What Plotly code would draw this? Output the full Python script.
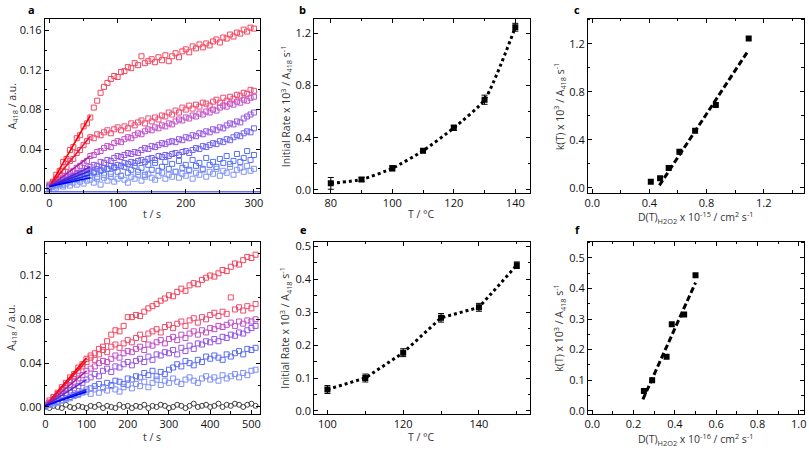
import numpy as np
import plotly.graph_objects as go

W, H = 809, 451

# ---------------- Panel a: kinetics traces (A418, units of 1e-3) ----------------
a_t = list(range(0, 305, 5))
a_s1 = [4, 7, 14, 18, 27, 30, 39, 42, 51, 54, 63, 66, 72,
        82, 89, 97, 103, 107, 111, 114, 113, 118, 119, 123, 122,
        127, 125, 134, 127, 129, 131, 128, 133, 130, 135, 129, 134,
        137, 133, 139, 141, 138, 144, 142, 146, 143, 147, 145, 149,
        151, 148, 153, 152, 156, 154, 158, 157, 161, 159, 163, 162]
a_s2 = [3, 6, 10, 14, 18, 22, 28, 30, 36, 39, 44, 48, 52,
        51, 55, 54, 57, 59, 56, 60, 62, 59, 63, 61, 66,
        64, 67, 69, 66, 71, 68, 72, 70, 74, 73, 77, 75,
        79, 77, 82, 80, 84, 81, 85, 83, 87, 86, 84, 88,
        90, 87, 92, 89, 93, 91, 95, 94, 97, 96, 100, 99]
a_s3 = [2, 5, 6, 9, 11, 13, 16, 18, 21, 23, 26, 28, 33,
        34, 37, 38, 41, 43, 42, 46, 48, 47, 50, 52, 51,
        54, 56, 55, 58, 60, 59, 62, 61, 64, 63, 66, 65,
        68, 70, 69, 72, 71, 74, 73, 76, 75, 78, 77, 80,
        79, 82, 84, 83, 86, 85, 88, 87, 90, 89, 92, 93]
a_s4 = [2, 4, 6, 7, 9, 10, 12, 13, 15, 16, 18, 20, 22,
        24, 23, 27, 26, 29, 28, 31, 33, 32, 34, 36, 35,
        37, 36, 39, 41, 40, 43, 42, 44, 46, 45, 47, 48,
        47, 50, 49, 52, 51, 54, 53, 56, 55, 58, 57, 60,
        59, 62, 61, 64, 66, 65, 68, 67, 71, 73, 75, 77]
a_s5 = [1, 3, 4, 5, 7, 8, 9, 11, 12, 13, 15, 16, 18,
        17, 20, 19, 21, 20, 23, 22, 24, 23, 26, 25, 27,
        26, 28, 29, 27, 30, 31, 29, 33, 32, 34, 33, 35,
        36, 34, 37, 38, 36, 39, 41, 40, 43, 42, 44, 46,
        45, 48, 47, 50, 49, 52, 54, 53, 56, 58, 57, 61]
a_s6 = [1, 5, 3, 6, 4, 8, 7, 10, 9, 12, 11, 14, 13,
        16, 12, 18, 14, 20, 15, 21, 17, 13, 22, 16, 19,
        23, 17, 21, 14, 24, 19, 26, 18, 22, 27, 20, 25,
        17, 28, 21, 24, 19, 29, 23, 26, 20, 31, 24, 27,
        22, 30, 26, 33, 25, 28, 35, 27, 31, 38, 29, 34]
a_s7 = [0, 3, 1, 4, 2, 5, 3, 6, 4, 7, 5, 8, 9,
        6, 10, 4, 11, 8, 12, 7, 10, 13, 9, 6, 12,
        10, 14, 8, 12, 15, 11, 9, 13, 16, 10, 14, 12,
        17, 11, 15, 13, 18, 10, 16, 14, 19, 12, 17, 15,
        20, 13, 18, 16, 22, 14, 19, 21, 17, 23, 18, 20]
a_series = [a_s1, a_s2, a_s3, a_s4, a_s5, a_s6, a_s7]
a_fit_t = [0, 60]
a_fit_start = [2, 2, 2, 2, 2, 2, 2]
a_fit_end = [74, 53, 33, 22, 18, 14, 11]
a_base_t = [-7, 309]
a_base = [-3.5, -3.5]

# ---------------- Panel d: kinetics traces (A418, units of 1e-3) ----------------
d_t = list(range(0, 520, 10))
d_s1 = [2, 6, 9, 13, 18, 22, 27, 30, 36, 39, 44,
        47, 49, 53, 55, 60, 66, 70, 69, 74, 82,
        82, 84, 83, 87, 90, 92, 94, 97, 99, 102,
        101, 105, 108, 106, 111, 113, 112, 116, 118, 120,
        119, 122, 125, 124, 128, 131, 130, 134, 137, 136, 139]
d_s2 = [1, 4, 9, 12, 16, 20, 24, 28, 33, 37, 41,
        45, 43, 48, 52, 50, 55, 57, 54, 58, 61,
        59, 63, 66, 62, 67, 69, 71, 68, 73, 75,
        72, 76, 78, 74, 79, 81, 77, 82, 80, 84,
        86, 83, 87, 85, 100, 89, 91, 88, 92, 90, 94]
d_s3 = [2, 4, 7, 10, 13, 17, 20, 23, 26, 29, 33,
        35, 37, 40, 42, 41, 44, 47, 45, 49, 51,
        50, 53, 55, 52, 57, 56, 59, 61, 58, 62,
        64, 61, 66, 63, 67, 69, 66, 70, 68, 72,
        71, 74, 73, 75, 77, 74, 78, 76, 79, 78, 80]
d_s4 = [1, 3, 5, 8, 10, 12, 15, 17, 19, 22, 25,
        27, 30, 28, 33, 35, 32, 37, 36, 39, 41,
        38, 42, 44, 41, 46, 43, 48, 47, 50, 49,
        52, 48, 54, 51, 56, 53, 58, 57, 60, 59,
        62, 60, 64, 63, 66, 65, 68, 67, 70, 72, 74]
d_s5 = [1, 2, 4, 5, 6, 8, 9, 11, 12, 14, 16,
        17, 19, 21, 18, 22, 20, 24, 23, 21, 26,
        25, 28, 27, 31, 29, 33, 28, 32, 30, 34,
        36, 39, 37, 42, 40, 38, 43, 41, 46, 44,
        47, 45, 43, 48, 46, 49, 51, 48, 53, 52, 54]
d_s6 = [0, 2, 3, 4, 6, 7, 8, 10, 11, 13, 14,
        12, 16, 13, 17, 15, 19, 16, 14, 18, 20,
        17, 21, 19, 23, 18, 22, 25, 20, 24, 22,
        26, 23, 21, 25, 27, 24, 22, 26, 28, 25,
        27, 24, 29, 26, 28, 30, 27, 31, 29, 33, 34]
d_s7 = [0, -1, 1, 0, -1, 2, 0, -1, 1, 0, -1,
        1, 0, 2, -1, 1, 0, -1, 2, 0, 1,
        -1, 1, 0, 2, -1, 1, 0, 2, 1, -1,
        0, 2, 1, -1, 1, 3, 0, 1, 2, 0,
        1, 3, 0, 2, 1, 3, 2, 0, 2, 3, 1]
d_series = [d_s1, d_s2, d_s3, d_s4, d_s5, d_s6]
d_fit_t = [0, 100]
d_fit_start = [1, 1, 1, 1, 1, 1]
d_fit_end = [45, 42, 33, 25, 16, 14]

# ---------------- Panel b / c ----------------
b_T = [80, 90, 100, 110, 120, 130, 140]
b_rate = [0.05, 0.08, 0.165, 0.30, 0.475, 0.69, 1.245]
b_err = [0.045, 0.015, 0.02, 0.015, 0.02, 0.035, 0.03]
c_D = [0.41, 0.475, 0.535, 0.61, 0.72, 0.865, 1.095]
c_fit_x = [0.47, 1.09]
c_fit_y = [0.02, 1.14]

# ---------------- Panel e / f ----------------
e_T = [100, 110, 120, 130, 140, 150]
e_rate = [0.065, 0.10, 0.177, 0.283, 0.315, 0.443]
e_err = [0.012, 0.012, 0.012, 0.013, 0.012, 0.01]
f_D = [0.25, 0.29, 0.36, 0.385, 0.445, 0.50]
f_fit_x = [0.245, 0.50]
f_fit_y = [0.037, 0.419]

marker_cols = ['#f2475f', '#ee4c72', '#c24fc6', '#9656e4', '#6f63f0', '#5670f3', '#8093f6']
line_cols = ['#ff0000', '#f01030', '#a8209c', '#7020c8', '#3a22dc', '#1f2ae6', '#0000ff']
d_marker_cols = ['#f2475f', '#ee4c6e', '#c24fc6', '#9456e6', '#5b6cf2', '#7f8ff6']
d_line_cols = ['#ff0000', '#f0102c', '#a8209c', '#5a22d4', '#2a26e0', '#0000ff']

fig = go.Figure()

# panel a
for i, s in enumerate(a_series):
    fig.add_trace(go.Scatter(x=a_t, y=np.array(s) / 1000, mode='markers',
                             marker=dict(symbol='square-open', size=5, color=marker_cols[i],
                                         line=dict(width=1)),
                             xaxis='x', yaxis='y', showlegend=False))
fig.add_trace(go.Scatter(x=a_base_t, y=np.array(a_base) / 1000, mode='lines',
                         line=dict(color='#3040ff', width=1.5), xaxis='x', yaxis='y', showlegend=False))
for i in range(len(a_series)):
    fig.add_trace(go.Scatter(x=a_fit_t, y=np.array([a_fit_start[i], a_fit_end[i]]) / 1000, mode='lines',
                             line=dict(color=line_cols[i], width=1.6), xaxis='x', yaxis='y',
                             showlegend=False))

# panel d
fig.add_trace(go.Scatter(x=d_t, y=np.array(d_s7) / 1000, mode='markers',
                         marker=dict(symbol='circle-open', size=5, color='#404040', line=dict(width=1)),
                         xaxis='x4', yaxis='y4', showlegend=False))
for i, s in enumerate(d_series):
    fig.add_trace(go.Scatter(x=d_t, y=np.array(s) / 1000, mode='markers',
                             marker=dict(symbol='square-open', size=5, color=d_marker_cols[i],
                                         line=dict(width=1)),
                             xaxis='x4', yaxis='y4', showlegend=False))
for i in range(len(d_series)):
    fig.add_trace(go.Scatter(x=d_fit_t, y=np.array([d_fit_start[i], d_fit_end[i]]) / 1000, mode='lines',
                             line=dict(color=d_line_cols[i], width=1.6), xaxis='x4', yaxis='y4',
                             showlegend=False))

# panel b
fig.add_trace(go.Scatter(x=b_T, y=b_rate, mode='lines', line=dict(color='black', width=3, dash='dot',
                         shape='spline', smoothing=0.6), xaxis='x2', yaxis='y2', showlegend=False))
fig.add_trace(go.Scatter(x=b_T, y=b_rate, mode='markers',
                         marker=dict(symbol='square', size=6, color='black'),
                         error_y=dict(type='data', array=b_err, color='black', thickness=1, width=3),
                         xaxis='x2', yaxis='y2', showlegend=False))
# panel c
fig.add_trace(go.Scatter(x=c_fit_x, y=c_fit_y, mode='lines',
                         line=dict(color='black', width=3, dash='6px,3px'), xaxis='x3', yaxis='y3',
                         showlegend=False))
fig.add_trace(go.Scatter(x=c_D, y=b_rate, mode='markers',
                         marker=dict(symbol='square', size=6, color='black'),
                         xaxis='x3', yaxis='y3', showlegend=False))
# panel e
fig.add_trace(go.Scatter(x=e_T, y=e_rate, mode='lines', line=dict(color='black', width=3, dash='dot'),
                         xaxis='x5', yaxis='y5', showlegend=False))
fig.add_trace(go.Scatter(x=e_T, y=e_rate, mode='markers',
                         marker=dict(symbol='square', size=6, color='black'),
                         error_y=dict(type='data', array=e_err, color='black', thickness=1, width=3),
                         xaxis='x5', yaxis='y5', showlegend=False))
# panel f
fig.add_trace(go.Scatter(x=f_fit_x, y=f_fit_y, mode='lines',
                         line=dict(color='black', width=3, dash='6px,3px'), xaxis='x6', yaxis='y6',
                         showlegend=False))
fig.add_trace(go.Scatter(x=f_D, y=e_rate, mode='markers',
                         marker=dict(symbol='square', size=6, color='black'),
                         xaxis='x6', yaxis='y6', showlegend=False))


def px(x):
    return x / W


def py(y):
    return 1 - y / H


tickfont = dict(family='Open Sans, sans-serif', size=11, color='#111')


def ax(domain, rng, dtick, minor, fmt=None, tick0=None, anchor=None):
    d = dict(domain=domain, range=rng, dtick=dtick, ticks='inside', ticklen=4, tickwidth=1,
             tickcolor='black', showline=True, linecolor='black', linewidth=1, mirror='ticks',
             showgrid=False, zeroline=False, tickfont=tickfont,
             minor=dict(dtick=minor, ticks='inside', ticklen=2.5, tickcolor='black', showgrid=False),
             anchor=anchor)
    if fmt:
        d['tickformat'] = fmt
    if tick0 is not None:
        d['tick0'] = tick0
        d['minor']['tick0'] = tick0
    return d


top = [py(192.5), py(16)]
bot = [py(417), py(242.3)]
xa = [px(42), px(259)]
xb = [px(313.5), px(531)]
xc = [px(589.3), px(806.7)]

fig.update_layout(
    width=W, height=H, margin=dict(l=0, r=0, t=0, b=0),
    paper_bgcolor='white', plot_bgcolor='white',
    xaxis=ax(xa, [-7, 309], 100, 50, anchor='y', tick0=0),
    yaxis=ax(top, [-0.004, 0.172], 0.04, 0.02, fmt='.2f', anchor='x', tick0=0),
    xaxis2=ax(xb, [74.6, 144.8], 20, 10, anchor='y2', tick0=80),
    yaxis2=ax(top, [-0.02, 1.31], 0.4, 0.2, fmt='.1f', anchor='x2', tick0=0),
    xaxis3=ax(xc, [-0.03, 1.48], 0.4, 0.2, fmt='.1f', anchor='y3', tick0=0),
    yaxis3=ax(top, [-0.04, 1.41], 0.4, 0.2, fmt='.1f', anchor='x3', tick0=0),
    xaxis4=ax(xa, [-1.5, 521], 100, 50, anchor='y4', tick0=0),
    yaxis4=ax(bot, [-0.006, 0.151], 0.04, 0.02, fmt='.2f', anchor='x4', tick0=0),
    xaxis5=ax(xb, [96.5, 153.5], 20, 10, anchor='y5', tick0=100),
    yaxis5=ax(bot, [-0.008, 0.515], 0.1, 0.05, fmt='.1f', anchor='x5', tick0=0),
    xaxis6=ax(xc, [-0.021, 1.024], 0.2, 0.1, fmt='.1f', anchor='y6', tick0=0),
    yaxis6=ax(bot, [-0.009, 0.5535], 0.1, 0.05, fmt='.1f', anchor='x6', tick0=0),
)

tfont = dict(family='Open Sans, sans-serif', size=10.5, color='#333')
lfont = dict(family='Open Sans, sans-serif', size=11, color='black')
ann = []
# panel letters
for txt, x, y in [('a', 29, 7), ('b', 302, 7), ('c', 578, 7), ('d', 27, 230), ('e', 303, 230), ('f', 579, 230)]:
    ann.append(dict(text='<b>%s</b>' % txt, x=px(x), y=py(y), xref='paper', yref='paper',
                    showarrow=False, font=lfont, xanchor='center', yanchor='middle'))
# x titles
xt = [('t / s', 150, 214), ('T / °C', 422, 214),
      ('D(T)<sub>H2O2</sub> x 10<sup>-15</sup> / cm<sup>2</sup> s<sup>-1</sup>', 698, 218),
      ('t / s', 150, 441), ('T / °C', 422, 441),
      ('D(T)<sub>H2O2</sub> x 10<sup>-16</sup> / cm<sup>2</sup> s<sup>-1</sup>', 698, 443)]
for txt, x, y in xt:
    ann.append(dict(text=txt, x=px(x), y=py(y), xref='paper', yref='paper', showarrow=False,
                    font=tfont, xanchor='center', yanchor='middle'))
# y titles
yt = [('A<sub>418</sub> / a.u.', 9, 105),
      ('Initial Rate x 10<sup>3</sup> / A<sub>418</sub> s<sup>-1</sup>', 285, 105),
      ('k(T) x 10<sup>3</sup> / A<sub>418</sub> s<sup>-1</sup>', 561, 105),
      ('A<sub>418</sub> / a.u.', 9, 330),
      ('Initial Rate x 10<sup>3</sup> / A<sub>418</sub> s<sup>-1</sup>', 285, 330),
      ('k(T) x 10<sup>3</sup> / A<sub>418</sub> s<sup>-1</sup>', 561, 330)]
for txt, x, y in yt:
    ann.append(dict(text=txt, x=px(x), y=py(y), xref='paper', yref='paper', showarrow=False,
                    font=tfont, textangle=-90, xanchor='center', yanchor='middle'))
fig.update_layout(annotations=ann)

fig.write_html('out.html', config={'displayModeBar': False},
               post_script="document.body.style.margin='0px';document.body.style.overflow='hidden';")
